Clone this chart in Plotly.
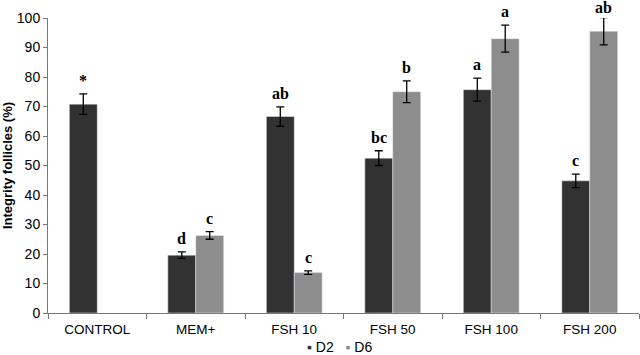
import plotly.graph_objects as go

categories = ["CONTROL", "MEM+", "FSH 10", "FSH 50", "FSH 100", "FSH 200"]
d2_values = [70.8, 19.6, 66.6, 52.5, 75.7, 44.8]
d2_errors = [3.5, 1.1, 3.3, 2.5, 3.9, 2.3]
d6_values = [None, 26.3, 13.7, 75.0, 93.0, 95.5]
d6_errors = [None, 1.3, 0.6, 3.7, 4.6, 4.6]
d2_letters = ["*", "d", "ab", "bc", "a", "c"]
d6_letters = ["", "c", "c", "b", "a", "ab"]
series_names = ["D2", "D6"]

D2_COLOR = "#323232"
D6_COLOR = "#8d8d8d"
Y_MAX = 100

fig = go.Figure()
fig.add_trace(go.Bar(
    name=series_names[0], x=categories, y=d2_values, marker_color=D2_COLOR,
    error_y=dict(type="data", array=d2_errors, color="black", thickness=1.3, width=4),
))
fig.add_trace(go.Bar(
    name=series_names[1], x=categories, y=d6_values, marker_color=D6_COLOR,
    error_y=dict(type="data", array=[e if e is not None else 0 for e in d6_errors],
                 color="black", thickness=1.3, width=4),
))

bargap = 0.433
off = (1 - bargap) / 4
for i, cat in enumerate(categories):
    for vals, errs, letters, sgn in ((d2_values, d2_errors, d2_letters, -1),
                                     (d6_values, d6_errors, d6_letters, 1)):
        if vals[i] is None or not letters[i]:
            continue
        top = vals[i] + errs[i]
        if top < Y_MAX - 2:
            y, shift = top, 3
        else:
            y, shift = Y_MAX - 0.01, 0
        fig.add_annotation(
            x=i + sgn * off, y=y, xref="x", yref="y",
            text="<b>%s</b>" % letters[i], showarrow=False, yanchor="bottom",
            yshift=shift,
            font=dict(family="Liberation Serif", size=16, color="black"),
        )

# compact legend, drawn as text below the axis
legend_text = (
    "<span style='color:%s'>▪</span> %s&nbsp;&nbsp;&nbsp;"
    "<span style='color:%s'>▪</span> %s"
    % (D2_COLOR, series_names[0], D6_COLOR, series_names[1])
)
fig.add_annotation(
    x=0.494, y=-0.113, xref="paper", yref="paper", xanchor="center", yanchor="middle",
    text=legend_text, showarrow=False, height=15,
    font=dict(family="Liberation Sans", size=14, color="black"),
)

fig.update_layout(
    width=640, height=355,
    margin=dict(l=48, r=1, t=18, b=42, autoexpand=False),
    plot_bgcolor="white", paper_bgcolor="white",
    barmode="group", bargap=bargap, bargroupgap=0,
    font=dict(family="Liberation Sans", size=13, color="black"),
    showlegend=False,
)
fig.update_xaxes(
    type="category", showline=True, linecolor="#777777", linewidth=1,
    ticks="outside", tickson="boundaries", ticklen=5, tickcolor="#777777",
    tickfont=dict(size=13.5), ticklabelstandoff=4, showgrid=False, automargin=False,
)
fig.update_yaxes(
    range=[0, Y_MAX], dtick=10, showline=True, linecolor="#777777", linewidth=1,
    ticks="outside", ticklen=4, tickcolor="#777777", showgrid=False, zeroline=False,
    tickfont=dict(size=14), ticklabelstandoff=0, automargin=False,
    title=dict(text="<b>Integrity follicles (%)</b>", font=dict(size=13), standoff=2),
)

fig.write_html("out.html", post_script="document.body.style.margin='0';",
               config={"displayModeBar": False})
